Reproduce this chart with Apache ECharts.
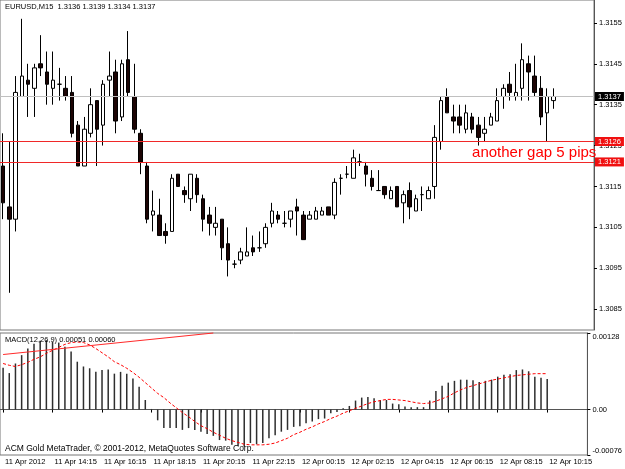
<!DOCTYPE html>
<html><head><meta charset="utf-8">
<script src="https://cdn.jsdelivr.net/npm/echarts@6/dist/echarts.min.js"></script>
<style>html,body{margin:0;padding:0;background:#fff}#c{width:625px;height:469px}</style>
</head><body><div id="c"></div>
<script>
// ---- data ----
const timeLabels = ['11 Apr 2012','11 Apr 14:15','11 Apr 16:15','11 Apr 18:15','11 Apr 20:15','11 Apr 22:15',
  '12 Apr 00:15','12 Apr 02:15','12 Apr 04:15','12 Apr 06:15','12 Apr 08:15','12 Apr 10:15'];
const barsPerLabel = 8;
const totalSlots = 95; // bars + empty right margin (chart shift)

const opens  = [1.3120,1.3110,1.3107,1.3137,1.3141,1.3139,1.3145,1.3143,1.3139,1.3140,1.3139,1.3138,1.3130,1.3120,1.3128,1.3136,1.3130,1.3141,1.3143,1.3132,
  1.3146,1.3137,1.3128,1.3120,1.3108,1.3108,1.3104,1.3104,1.3118,1.3114,1.3112,1.3117,1.3112,1.3108,1.3105,1.3107,1.3101,1.3096,1.3097,1.3098,
  1.3100,1.3100,1.3101,1.3106,1.3108,1.3106,1.3107,1.3110,1.3108,1.3107,1.3107,1.3108,1.3110,1.3108,1.3117,1.3118,1.3117,1.3121,1.3120,1.3117,
  1.3114,1.3115,1.3112,1.3115,1.3111,1.3114,1.3109,1.3113,1.3112,1.3115,1.3126,1.3137,1.3132,1.3132,1.3129,1.3132,1.3130,1.3128,1.3130,1.3131,
  1.3137,1.3140,1.3137,1.3139,1.3145,1.3142,1.3139,1.3133,1.3136];
const highs  = [1.3128,1.3126,1.3142,1.3156,1.3145,1.3145,1.3152,1.3148,1.3148,1.3144,1.3142,1.3142,1.3131,1.3132,1.3139,1.3136,1.3141,1.3148,1.3146,1.3146,
  1.3153,1.3145,1.3129,1.3121,1.3114,1.3112,1.3106,1.3118,1.3118,1.3115,1.3118,1.3118,1.3113,1.3110,1.3110,1.3107,1.3105,1.3097,1.3100,1.3105,
  1.3103,1.3104,1.3106,1.3111,1.3109,1.3109,1.3109,1.3112,1.3109,1.3109,1.3110,1.3110,1.3110,1.3117,1.3118,1.3120,1.3124,1.3123,1.3121,1.3119,
  1.3119,1.3115,1.3115,1.3115,1.3114,1.3116,1.3113,1.3115,1.3115,1.3130,1.3137,1.3139,1.3135,1.3135,1.3135,1.3133,1.3132,1.3132,1.3133,1.3139,
  1.3140,1.3143,1.3145,1.3150,1.3147,1.3147,1.3142,1.3139,1.3139];
const lows   = [1.3107,1.3089,1.3104,1.3137,1.3132,1.3132,1.3142,1.3135,1.3135,1.3136,1.3136,1.3127,1.3120,1.3120,1.3127,1.3120,1.3125,1.3137,1.3128,1.3131,
  1.3137,1.3128,1.3118,1.3106,1.3104,1.3103,1.3101,1.3104,1.3115,1.3111,1.3109,1.3111,1.3104,1.3103,1.3103,1.3097,1.3093,1.3095,1.3096,1.3098,
  1.3098,1.3099,1.3100,1.3105,1.3106,1.3105,1.3105,1.3103,1.3102,1.3107,1.3107,1.3108,1.3108,1.3107,1.3113,1.3117,1.3117,1.3120,1.3115,1.3114,
  1.3114,1.3112,1.3112,1.3110,1.3106,1.3107,1.3109,1.3109,1.3112,1.3112,1.3124,1.3133,1.3128,1.3128,1.3128,1.3128,1.3125,1.3126,1.3130,1.3131,
  1.3134,1.3136,1.3136,1.3136,1.3136,1.3137,1.3130,1.3126,1.3134];
const closes = [1.3111,1.3107,1.3138,1.3142,1.3140,1.3144,1.3144,1.3140,1.3141,1.3140,1.3137,1.3128,1.3120,1.3129,1.3135,1.3129,1.3140,1.3142,1.3131,1.3145,
  1.3138,1.3129,1.3121,1.3107,1.3109,1.3103,1.3103,1.3117,1.3115,1.3113,1.3118,1.3113,1.3107,1.3106,1.3106,1.3100,1.3097,1.3096,1.3099,1.3099,
  1.3099,1.3100,1.3105,1.3109,1.3107,1.3106,1.3109,1.3109,1.3102,1.3108,1.3109,1.3109,1.3108,1.3116,1.3117,1.3118,1.3122,1.3121,1.3118,1.3115,
  1.3114,1.3113,1.3114,1.3110,1.3113,1.3110,1.3112,1.3113,1.3114,1.3127,1.3136,1.3133,1.3131,1.3130,1.3133,1.3129,1.3127,1.3129,1.3132,1.3136,
  1.3139,1.3138,1.3138,1.3146,1.3143,1.3138,1.3132,1.3137,1.3137];

const macdMain = [0.00070,0.00061,0.00077,0.00091,0.00102,0.00110,0.00115,0.00116,0.00113,0.00112,0.00105,0.00097,0.00080,0.00072,0.00069,0.00063,0.00066,0.00067,0.00060,0.00063,
  0.00060,0.00052,0.00038,0.00016,0.00001,-0.00018,-0.00031,-0.00031,-0.00031,-0.00034,-0.00031,-0.00034,-0.00037,-0.00041,-0.00044,-0.00051,-0.00052,-0.00059,-0.00061,-0.00062,
  -0.00056,-0.00058,-0.00056,-0.00048,-0.00043,-0.00037,-0.00034,-0.00029,-0.00028,-0.00023,-0.00020,-0.00016,-0.00015,-0.00006,-0.00004,0.00002,0.00006,0.00015,0.00020,0.00021,
  0.00019,0.00016,0.00016,0.00010,0.00009,0.00005,0.00004,0.00004,0.00004,0.00015,0.00031,0.00040,0.00045,0.00048,0.00050,0.00050,0.00049,0.00046,0.00048,0.00050,
  0.00055,0.00058,0.00059,0.00066,0.00067,0.00064,0.00055,0.00053,0.00051];
const macdSignal = [0.00077,0.00074,0.00072,0.00075,0.00079,0.00084,0.00088,0.00094,0.00099,0.00104,0.00109,0.00112,0.00113,0.00112,0.00108,0.00102,0.00095,0.00088,0.00080,0.00075,
  0.00069,0.00062,0.00054,0.00045,0.00036,0.00027,0.00020,0.00011,0.00003,-0.00005,-0.00012,-0.00020,-0.00027,-0.00032,-0.00038,-0.00043,-0.00048,-0.00052,-0.00055,-0.00058,
  -0.00059,-0.00059,-0.00059,-0.00058,-0.00056,-0.00052,-0.00048,-0.00042,-0.00038,-0.00033,-0.00029,-0.00024,-0.00020,-0.00015,-0.00011,-0.00006,-0.00002,0.00002,0.00006,0.00010,
  0.00013,0.00015,0.00017,0.00017,0.00016,0.00015,0.00013,0.00011,0.00010,0.00011,0.00014,0.00018,0.00022,0.00028,0.00033,0.00037,0.00040,0.00043,0.00046,0.00049,
  0.00051,0.00053,0.00055,0.00057,0.00058,0.00059,0.00060,0.00060,0.00060];

const priceTicks = [1.3085,1.3095,1.3105,1.3115,1.3125,1.3135,1.3145,1.3155];
const macdTicks = [-0.00076,0,0.00128];
const bidPrice = 1.3137;
const redLevels = [1.3126,1.3121];
const gapNote = {text:'another gap 5 pips', bar:75, price:1.31233};
const trendLine = [[0,0.00092],[34,0.00128]];
const titleText = 'EURUSD,M15  1.3136 1.3139 1.3134 1.3137';
const macdText = 'MACD(12,26,9) 0.00051 0.00060';
const copyText = 'ACM Gold MetaTrader, \u00a9 2001-2012, MetaQuotes Software Corp.';

// ---- build ----
const cats = [];
for (let i = 0; i < totalSlots; i++) cats.push(String(i));
const ohlc = opens.map((o, i) => [o, closes[i], lows[i], highs[i]]);
const FONT = 'Liberation Sans';
const FS = 7.5;

const chart = echarts.init(document.getElementById('c'), null, {renderer:'canvas'});
chart.setOption({
  animation:false,
  backgroundColor:'#fff',
  textStyle:{fontFamily:FONT},
  grid:[
    {left:0, right:31, top:0, height:330, show:true, borderColor:'#777', borderWidth:1, backgroundColor:'#fff'},
    {left:0, right:31, top:333, height:122, show:true, borderColor:'#777', borderWidth:1, backgroundColor:'#fff'}
  ],
  xAxis:[
    {type:'category', gridIndex:0, data:cats, boundaryGap:true,
     axisLine:{show:false}, axisTick:{show:false}, axisLabel:{show:false}, splitLine:{show:false}},
    {type:'category', gridIndex:1, data:cats, boundaryGap:true,
     axisLine:{show:true, lineStyle:{color:'#555'}},
     axisTick:{show:true, interval:barsPerLabel-1, alignWithLabel:true, length:3, lineStyle:{color:'#000'}},
     axisLabel:{show:true, interval:barsPerLabel-1, align:'left', margin:3, padding:[0,0,0,2],
       fontFamily:FONT, fontSize:FS, color:'#000',
       formatter:(v, idx) => (idx % barsPerLabel === 0 && timeLabels[idx / barsPerLabel]) ? timeLabels[idx / barsPerLabel] : ''},
     splitLine:{show:false}}
  ],
  yAxis:[
    {type:'value', gridIndex:0, position:'right', min:1.30799, max:1.31606, scale:true,
     axisLine:{show:true, lineStyle:{color:'#555'}},
     axisTick:{show:true, length:3, customValues:priceTicks, lineStyle:{color:'#000'}},
     axisLabel:{show:true, customValues:priceTicks, margin:5, fontFamily:FONT, fontSize:FS, color:'#000',
       formatter:v => v.toFixed(4)},
     splitLine:{show:false}},
    {type:'value', gridIndex:1, position:'right', min:-0.00076, max:0.00128,
     axisLine:{show:true, lineStyle:{color:'#555'}},
     axisTick:{show:true, length:3, customValues:macdTicks, lineStyle:{color:'#000'}},
     axisLabel:{show:true, customValues:macdTicks, margin:5, fontFamily:FONT, fontSize:FS, color:'#000',
       showMinLabel:true, showMaxLabel:true, verticalAlignMinLabel:'bottom', verticalAlignMaxLabel:'top',
       formatter:v => (v === 0 ? '0.00' : v.toFixed(5))},
     splitLine:{show:false}}
  ],
  series:[
    {type:'candlestick', xAxisIndex:0, yAxisIndex:0, data:ohlc, barWidth:4, z:3,
     itemStyle:{color:'#ffffff', color0:'#1c0404', borderColor:'#000', borderColor0:'#000', borderWidth:1},
     markPoint:{silent:true, symbol:'circle', symbolSize:0, animation:false,
       data:[{coord:[gapNote.bar, gapNote.price], label:{show:true, position:'right', distance:0, formatter:gapNote.text,
         color:'#ff0000', fontFamily:FONT, fontSize:15}}]}
    },
    {type:'line', xAxisIndex:0, yAxisIndex:0, data:[], z:2,
     markLine:{silent:true, symbol:['none','none'], animation:false, precision:5,
       data:[
         {yAxis:bidPrice, lineStyle:{color:'#c0c0c0', width:1, type:'solid'},
          label:{show:true, position:'end', distance:1, formatter:bidPrice.toFixed(4), color:'#fff', backgroundColor:'#000',
            padding:[1,3,0,3], fontFamily:FONT, fontSize:FS}},
         ...redLevels.map(p => ({yAxis:p, lineStyle:{color:'#f02828', width:1, type:'solid'},
          label:{show:true, position:'end', distance:1, formatter:p.toFixed(4), color:'#fff', backgroundColor:'#f01010',
            padding:[1,3,0,3], fontFamily:FONT, fontSize:FS}}))
       ]}},
    {type:'bar', xAxisIndex:1, yAxisIndex:1, data:macdMain, barWidth:1.5,
     itemStyle:{color:'#2e2e2e'},
     markLine:{silent:true, symbol:['none','none'], animation:false, precision:5,
       lineStyle:{color:'#ff2a2a', width:1, type:'solid'}, label:{show:false},
       data:[[{coord:trendLine[0]}, {coord:trendLine[1]}]]}},
    {type:'line', xAxisIndex:1, yAxisIndex:1, data:macdSignal, symbol:'none', smooth:false,
     lineStyle:{color:'#ff0000', width:1, type:[3,2]}}
  ],
  graphic:[
    {type:'text', left:5, top:3, style:{text:titleText, font:'7.5px "Liberation Sans"', fill:'#000'}, z:100},
    {type:'text', left:5, top:336, style:{text:macdText, font:'7.5px "Liberation Sans"', fill:'#000'}, z:100},
    {type:'text', left:5, top:444, style:{text:copyText, font:'8.5px "Liberation Sans"', fill:'#000'}, z:100}
  ]
});
</script></body></html>
